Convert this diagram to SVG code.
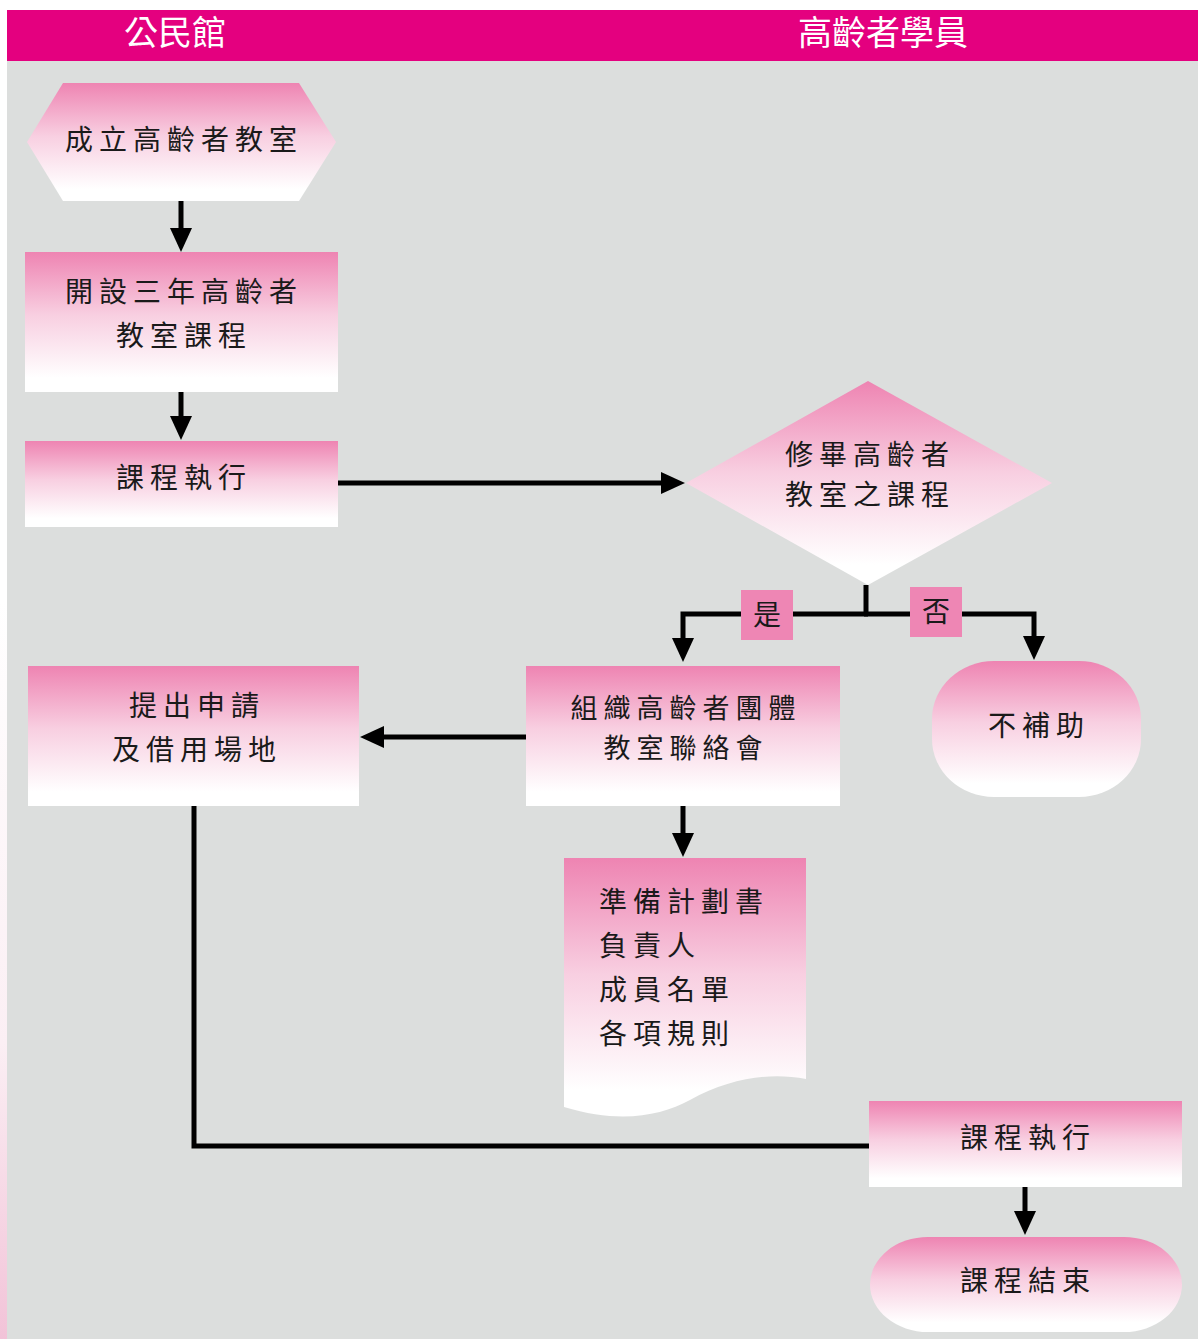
<svg xmlns="http://www.w3.org/2000/svg" width="1198" height="1339" viewBox="0 0 1198 1339">
<style>
.node-text{font-family:"Noto Sans CJK TC","Noto Sans CJK SC",sans-serif;font-size:28px;fill:#1a1a1a;letter-spacing:6px;}
.head-text{font-family:"Noto Sans CJK TC","Noto Sans CJK SC",sans-serif;font-size:34px;fill:#ffffff;}
.conn{fill:none;stroke:#000;stroke-width:5;stroke-linejoin:miter;stroke-linecap:butt;}
.arrow{marker-end:url(#ah);}
.shape{fill:url(#pg);}
.tag{fill:#EE86B4;}
</style>
<defs>
<linearGradient id="pg" x1="0" y1="0" x2="0" y2="1">
<stop offset="0" stop-color="#EE84B2"/>
<stop offset="0.45" stop-color="#F8CFE1"/>
<stop offset="0.9" stop-color="#FFFFFF"/>
</linearGradient>
<linearGradient id="edge" x1="0" y1="0" x2="0" y2="1">
<stop offset="0" stop-color="#FFFFFF"/>
<stop offset="0.6" stop-color="#FBEFF4"/>
<stop offset="1" stop-color="#F2C3D8"/>
</linearGradient>
<marker id="ah" markerUnits="userSpaceOnUse" markerWidth="24" markerHeight="22" viewBox="0 0 24 22" refX="0" refY="11" orient="auto">
<path d="M0,0 L24,11 L0,22 z" fill="#000"/>
</marker>
</defs>
<rect x="0" y="0" width="1198" height="1339" fill="#FFFFFF"/>
<rect x="0" y="600" width="7" height="739" fill="url(#edge)"/>
<rect x="7" y="61" width="1191" height="1278" fill="#DCDEDD"/>
<g id="header">
<rect x="7" y="10" width="1191" height="51" fill="#E4007F"/>
<text class="head-text" x="175" y="45" text-anchor="middle">公民館</text>
<text class="head-text" x="883" y="45" text-anchor="middle">高齡者學員</text>
</g>
<g id="connectors">
<path class="conn arrow" d="M181,201 V228"/>
<path class="conn arrow" d="M181,392 V416"/>
<path class="conn arrow" d="M338,483 H661"/>
<path class="conn" d="M866,585 V614"/>
<path class="conn arrow" d="M868,614 H683 V638"/>
<path class="conn arrow" d="M864,614 H1034 V636"/>
<path class="conn arrow" d="M526,737 H384"/>
<path class="conn arrow" d="M683,806 V833"/>
<path class="conn" d="M194,806 V1146 H869"/>
<path class="conn arrow" d="M1025,1187 V1211"/>
</g>
<g id="label-yes">
<rect class="tag" x="741" y="590" width="52" height="50"/>
<text class="node-text" x="767" y="625" text-anchor="middle" style="letter-spacing:0">是</text>
</g>
<g id="label-no">
<rect class="tag" x="910" y="587" width="52" height="50"/>
<text class="node-text" x="936" y="622" text-anchor="middle" style="letter-spacing:0">否</text>
</g>
<g id="n-start">
<polygon class="shape" points="63,83 299,83 336,142 299,201 63,201 27,142"/>
<text class="node-text" x="184" y="150" text-anchor="middle">成立高齡者教室</text>
</g>
<g id="n-open">
<rect class="shape" x="25" y="252" width="313" height="140"/>
<text class="node-text" x="184" y="302" text-anchor="middle">開設三年高齡者</text>
<text class="node-text" x="184" y="346" text-anchor="middle">教室課程</text>
</g>
<g id="n-exec1">
<rect class="shape" x="25" y="441" width="313" height="86"/>
<text class="node-text" x="184" y="488" text-anchor="middle">課程執行</text>
</g>
<g id="n-decide">
<polygon class="shape" points="868,381 1052,483 868,585 686,483"/>
<text class="node-text" x="870" y="465" text-anchor="middle">修畢高齡者</text>
<text class="node-text" x="870" y="505" text-anchor="middle">教室之課程</text>
</g>
<g id="n-org">
<rect class="shape" x="526" y="666" width="314" height="140"/>
<text class="node-text" x="686" y="718" text-anchor="middle" style="font-size:27px">組織高齡者團體</text>
<text class="node-text" x="686" y="758" text-anchor="middle" style="font-size:27px">教室聯絡會</text>
</g>
<g id="n-apply">
<rect class="shape" x="28" y="666" width="331" height="140"/>
<text class="node-text" x="197" y="716" text-anchor="middle">提出申請</text>
<text class="node-text" x="197" y="760" text-anchor="middle">及借用場地</text>
</g>
<g id="n-no">
<rect class="shape" x="932" y="661" width="209" height="136" rx="62" ry="58"/>
<text class="node-text" x="1039" y="736" text-anchor="middle">不補助</text>
</g>
<g id="n-doc">
<path class="shape" d="M564,858 H806 V1079 C770,1072 730,1078 690,1100 C660,1116 620,1124 564,1107 Z"/>
<text class="node-text" x="599" y="912">準備計劃書</text>
<text class="node-text" x="599" y="956">負責人</text>
<text class="node-text" x="599" y="1000">成員名單</text>
<text class="node-text" x="599" y="1044">各項規則</text>
</g>
<g id="n-exec2">
<rect class="shape" x="869" y="1101" width="313" height="86"/>
<text class="node-text" x="1028" y="1148" text-anchor="middle">課程執行</text>
</g>
<g id="n-end">
<rect class="shape" x="870" y="1237" width="312" height="95" rx="58" ry="48"/>
<text class="node-text" x="1028" y="1291" text-anchor="middle">課程結束</text>
</g>
</svg>
